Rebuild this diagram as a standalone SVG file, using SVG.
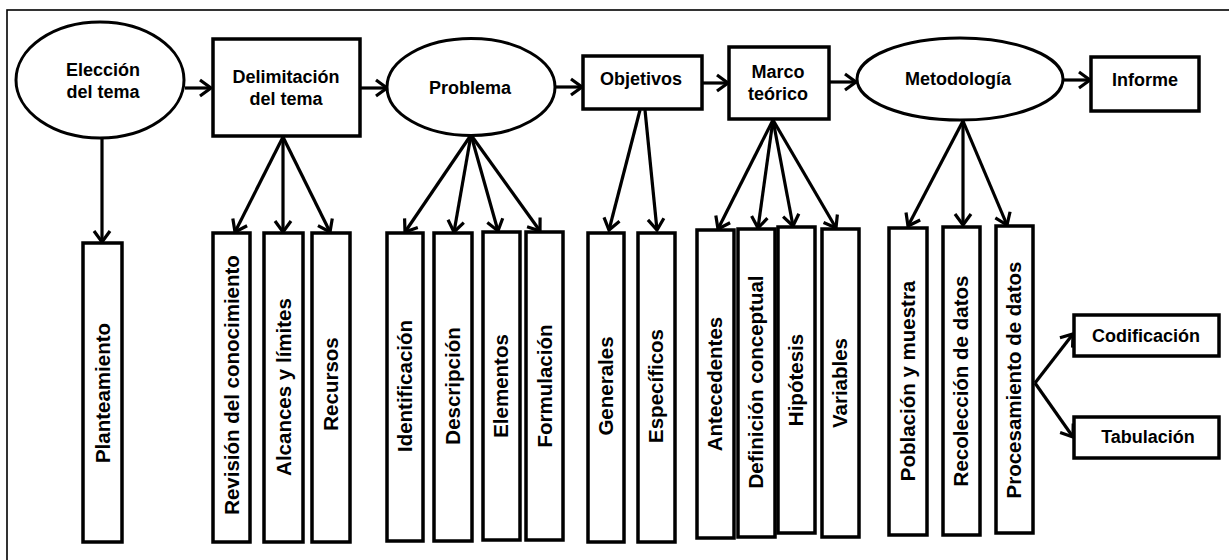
<svg xmlns="http://www.w3.org/2000/svg" width="1229" height="560" viewBox="0 0 1229 560">
<defs>
<style>
.shape{fill:#fff;stroke:#000;stroke-width:3.5}
.ell{fill:#fff;stroke:#000;stroke-width:3}
.lbl{font-family:"Liberation Sans",Arial,sans-serif;font-weight:bold;font-size:18px;text-anchor:middle;fill:#000}
.vl{font-family:"Liberation Sans",Arial,sans-serif;font-weight:bold;font-size:20.5px;text-anchor:middle;fill:#000}
.con{fill:none;stroke:#000;stroke-width:3.2;marker-end:url(#ah)}
</style>
<marker id="ah" markerUnits="userSpaceOnUse" markerWidth="20" markerHeight="20" viewBox="0 0 20 20" refX="15" refY="10" orient="auto">
<path d="M4,2 L15,10 L4,18" fill="none" stroke="#000" stroke-width="3.2" stroke-linejoin="miter"/>
</marker>
</defs>
<rect x="0" y="0" width="1229" height="560" fill="#fff"/>
<rect x="7" y="10" width="1240" height="570" fill="none" stroke="#000" stroke-width="1.6"/>

<g id="connectors">
<line class="con" x1="185" y1="88" x2="211" y2="88"/>
<line class="con" x1="361" y1="88" x2="387" y2="88"/>
<line class="con" x1="555" y1="87" x2="582" y2="87"/>
<line class="con" x1="703" y1="83" x2="728" y2="83"/>
<line class="con" x1="830" y1="82" x2="856" y2="82"/>
<line class="con" x1="1064" y1="80" x2="1090" y2="80"/>
<line class="con" x1="102" y1="138" x2="102" y2="242"/>
<line class="con" x1="283" y1="137" x2="235" y2="232"/>
<line class="con" x1="283" y1="137" x2="283" y2="232"/>
<line class="con" x1="283" y1="137" x2="330" y2="232"/>
<line class="con" x1="471" y1="135" x2="405" y2="232"/>
<line class="con" x1="471" y1="135" x2="454" y2="232"/>
<line class="con" x1="471" y1="135" x2="498" y2="231"/>
<line class="con" x1="471" y1="135" x2="540" y2="231"/>
<line class="con" x1="640" y1="110" x2="609" y2="230"/>
<line class="con" x1="645" y1="110" x2="657" y2="230"/>
<line class="con" x1="773" y1="120" x2="718" y2="229"/>
<line class="con" x1="773" y1="120" x2="758" y2="228"/>
<line class="con" x1="773" y1="120" x2="793" y2="226"/>
<line class="con" x1="773" y1="120" x2="836" y2="228"/>
<line class="con" x1="963" y1="121" x2="908" y2="226"/>
<line class="con" x1="963" y1="121" x2="963" y2="225"/>
<line class="con" x1="963" y1="121" x2="1007" y2="225"/>
<line class="con" x1="1035" y1="383" x2="1073" y2="334"/>
<line class="con" x1="1035" y1="383" x2="1073" y2="437"/>
</g>

<g id="eleccion"><ellipse class="ell" cx="100" cy="80" rx="84" ry="58"/>
<text class="lbl" x="103" y="76">Elección</text><text class="lbl" x="103" y="98">del tema</text></g>
<g id="delimitacion"><rect class="shape" x="213" y="39" width="147" height="97"/>
<text class="lbl" x="286" y="83">Delimitación</text><text class="lbl" x="286" y="105">del tema</text></g>
<g id="problema"><ellipse class="ell" cx="471" cy="87" rx="84" ry="48.5"/>
<text class="lbl" x="470" y="94">Problema</text></g>
<g id="objetivos"><rect class="shape" x="583" y="56" width="119" height="53"/>
<text class="lbl" x="641" y="85">Objetivos</text></g>
<g id="marco"><rect class="shape" x="729" y="47" width="100" height="72"/>
<text class="lbl" x="778" y="78">Marco</text><text class="lbl" x="778" y="100">teórico</text></g>
<g id="metodologia"><ellipse class="ell" cx="960" cy="79" rx="103" ry="41"/>
<text class="lbl" x="958" y="85">Metodología</text></g>
<g id="informe"><rect class="shape" x="1091" y="57" width="108" height="54"/>
<text class="lbl" x="1145" y="86">Informe</text></g>

<g id="planteamiento"><rect class="shape" x="83" y="243" width="39" height="299"/>
<text class="vl" transform="translate(110,393) rotate(-90)">Planteamiento</text></g>
<g id="revision"><rect class="shape" x="213" y="233" width="37" height="309"/>
<text class="vl" transform="translate(239,385) rotate(-90)">Revisión del conocimiento</text></g>
<g id="alcances"><rect class="shape" x="264" y="233" width="39" height="309"/>
<text class="vl" transform="translate(291,387) rotate(-90)">Alcances y límites</text></g>
<g id="recursos"><rect class="shape" x="312" y="233" width="38" height="309"/>
<text class="vl" transform="translate(338,384) rotate(-90)">Recursos</text></g>
<g id="identificacion"><rect class="shape" x="387" y="233" width="36" height="308"/>
<text class="vl" transform="translate(412,386) rotate(-90)">Identificación</text></g>
<g id="descripcion"><rect class="shape" x="434" y="233" width="38" height="308"/>
<text class="vl" transform="translate(460,386) rotate(-90)">Descripción</text></g>
<g id="elementos"><rect class="shape" x="483" y="232" width="37" height="308"/>
<text class="vl" transform="translate(508,386) rotate(-90)">Elementos</text></g>
<g id="formulacion"><rect class="shape" x="526" y="232" width="37" height="308"/>
<text class="vl" transform="translate(552,386) rotate(-90)">Formulación</text></g>
<g id="generales"><rect class="shape" x="588" y="233" width="36" height="309"/>
<text class="vl" transform="translate(613,386) rotate(-90)">Generales</text></g>
<g id="especificos"><rect class="shape" x="638" y="233" width="37" height="309"/>
<text class="vl" transform="translate(663,386) rotate(-90)">Específicos</text></g>
<g id="antecedentes"><rect class="shape" x="697" y="230" width="37" height="308"/>
<text class="vl" transform="translate(722,384) rotate(-90)">Antecedentes</text></g>
<g id="definicion"><rect class="shape" x="738" y="229" width="37" height="308"/>
<text class="vl" transform="translate(763,382) rotate(-90)">Definición conceptual</text></g>
<g id="hipotesis"><rect class="shape" x="778" y="227" width="37" height="306"/>
<text class="vl" transform="translate(803,380) rotate(-90)">Hipótesis</text></g>
<g id="variables"><rect class="shape" x="822" y="229" width="37" height="308"/>
<text class="vl" transform="translate(847,383) rotate(-90)">Variables</text></g>
<g id="poblacion"><rect class="shape" x="889" y="228" width="38" height="307"/>
<text class="vl" transform="translate(915,381) rotate(-90)">Población y muestra</text></g>
<g id="recoleccion"><rect class="shape" x="943" y="227" width="37" height="308"/>
<text class="vl" transform="translate(968,381) rotate(-90)">Recolección de datos</text></g>
<g id="procesamiento"><rect class="shape" x="996" y="226" width="37" height="307"/>
<text class="vl" transform="translate(1021,380) rotate(-90)">Procesamiento de datos</text></g>
<g id="codificacion"><rect class="shape" x="1074" y="315" width="145" height="41"/>
<text class="lbl" x="1146" y="342">Codificación</text></g>
<g id="tabulacion"><rect class="shape" x="1074" y="417" width="145" height="41"/>
<text class="lbl" x="1148" y="443">Tabulación</text></g>
</svg>
